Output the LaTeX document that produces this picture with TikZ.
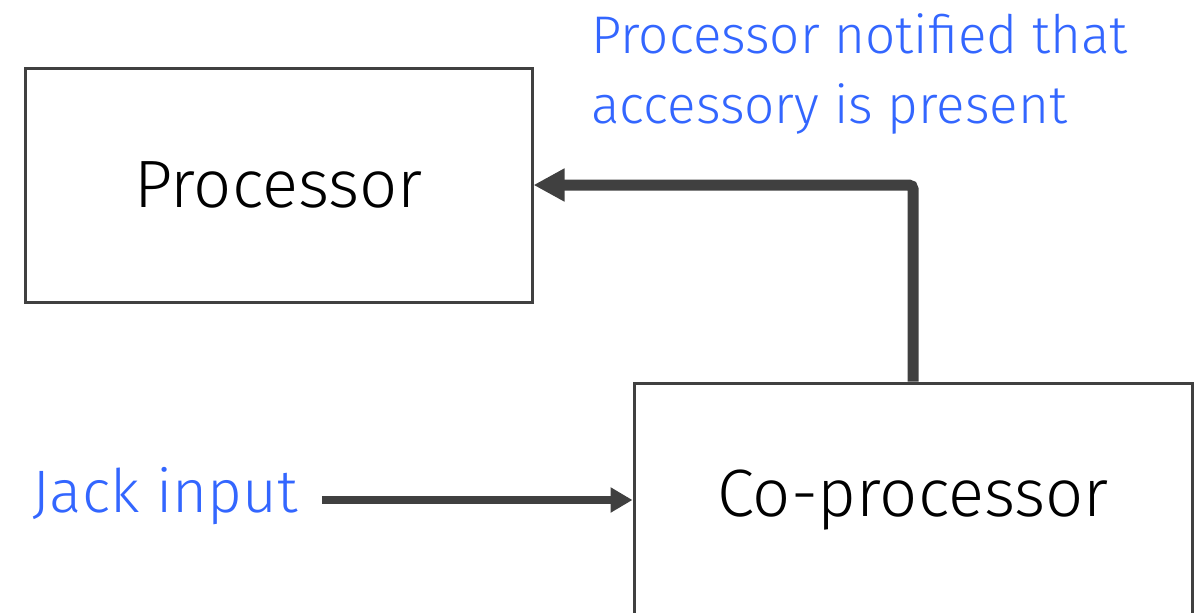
\documentclass[tikz,border=0pt]{standalone}
\usepackage{fontspec}
\setmainfont{Fira Sans Light}
\usepackage{xcolor}
\usepackage{tikz}
\usetikzlibrary{arrows.meta,positioning,calc}
\definecolor{linegray}{RGB}{64,64,64}
\definecolor{noteblue}{RGB}{51,102,255}

\begin{document}
\begin{tikzpicture}[
        x=0.5pt, y=-0.5pt,
        block/.style={rectangle, draw=linegray, line width=1.5pt, inner sep=0pt, font=\fontsize{33.5}{40}\selectfont, minimum height=117pt},
        note/.style={text=noteblue, inner sep=0pt, align=left, font=\fontsize{26.5}{35}\selectfont},
        arrow/.style={-{Triangle[length=11pt,width=12pt]}, draw=linegray, line width=4.25pt},
        bigarrow/.style={-{Triangle[length=15.5pt,width=15.5pt]}, draw=linegray, line width=5.5pt, rounded corners=2pt}
    ]
        \useasboundingbox (0,0) rectangle (1196,612);

        \node[block, minimum width=253.5pt] (proc) at (278.5,185) {Processor};
        \node[block, minimum width=279pt] (coproc) at (913,500) {Co-processor};

        \node[note, anchor=base west, font=\fontsize{30}{36}\selectfont] (jack) at (32,512) {Jack input};
        \node[note, anchor=north west] (notified) at (591,13) {Processor notified that\\accessory is present};

        \draw[arrow] ($(jack.east |- coproc.west)+(24,0)$) -- (coproc.west);
        \draw[bigarrow] (coproc.north) |- (proc.east);
    \end{tikzpicture}
\end{document}
